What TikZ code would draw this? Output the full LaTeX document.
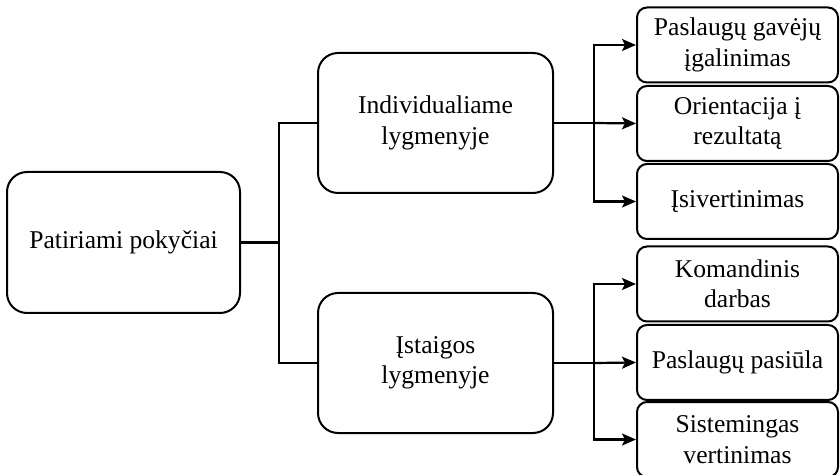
\documentclass[tikz,border=0pt]{standalone}
\usepackage{fontspec}
\setmainfont{Liberation Serif}
\usetikzlibrary{arrows.meta}

\tikzset{
	box/.style={draw,line width=1pt,align=center,inner sep=2pt,
		font=\fontsize{12.8}{15.2}\selectfont},
	rootbox/.style={box,rounded corners=10pt,minimum width=116.5pt,minimum height=70.5pt},
	midbox/.style={box,rounded corners=10pt,minimum width=117.5pt,minimum height=70pt},
	leafbox/.style={box,rounded corners=5pt,minimum width=100.5pt,minimum height=37.5pt},
	link/.style={line width=1.1pt}
}

\begin{document}
\begin{tikzpicture}[x=0.5pt,y=-0.5pt]
		\useasboundingbox (0,0) rectangle (840,475);
		\node[rootbox] (pok) at (123.5,242.5) {Patiriami pokyčiai};
		\node[midbox] (ind) at (435.5,123) {Individualiame\\lygmenyje};
		\node[midbox] (ist) at (435.5,363) {Įstaigos\\lygmenyje};
		\node[leafbox] (gav) at (737.5,45) {Paslaugų gavėjų\\įgalinimas};
		\node[leafbox] (ori) at (737.5,123.5) {Orientacija į\\rezultatą};
		\node[leafbox] (isv) at (737.5,201.5) {Įsivertinimas};
		\node[leafbox] (kom) at (737.5,284) {Komandinis\\darbas};
		\node[leafbox] (pas) at (737.5,362.5) {Paslaugų pasiūla};
		\node[leafbox] (sis) at (737.5,439.5) {Sistemingas\\vertinimas};
		\coordinate (trunk) at (279,242.5);
		\coordinate (indfork) at (594,123);
		\coordinate (istfork) at (594,363);
		\draw[link] (pok.east) -- (trunk) (trunk) |- (ind.west) (trunk) |- (ist.west);
		\draw[link] (ind.east) -- (indfork) (ist.east) -- (istfork);
		\path[link,-{Stealth[length=7pt,width=6pt,inset=1.5pt]}]
		(indfork) edge[to path={|- (\tikztotarget)}] (gav.west)
		(indfork) edge (ori.west)
		(indfork) edge[to path={|- (\tikztotarget)}] (isv.west)
		(istfork) edge[to path={|- (\tikztotarget)}] (kom.west)
		(istfork) edge (pas.west)
		(istfork) edge[to path={|- (\tikztotarget)}] (sis.west);
\end{tikzpicture}
\end{document}
